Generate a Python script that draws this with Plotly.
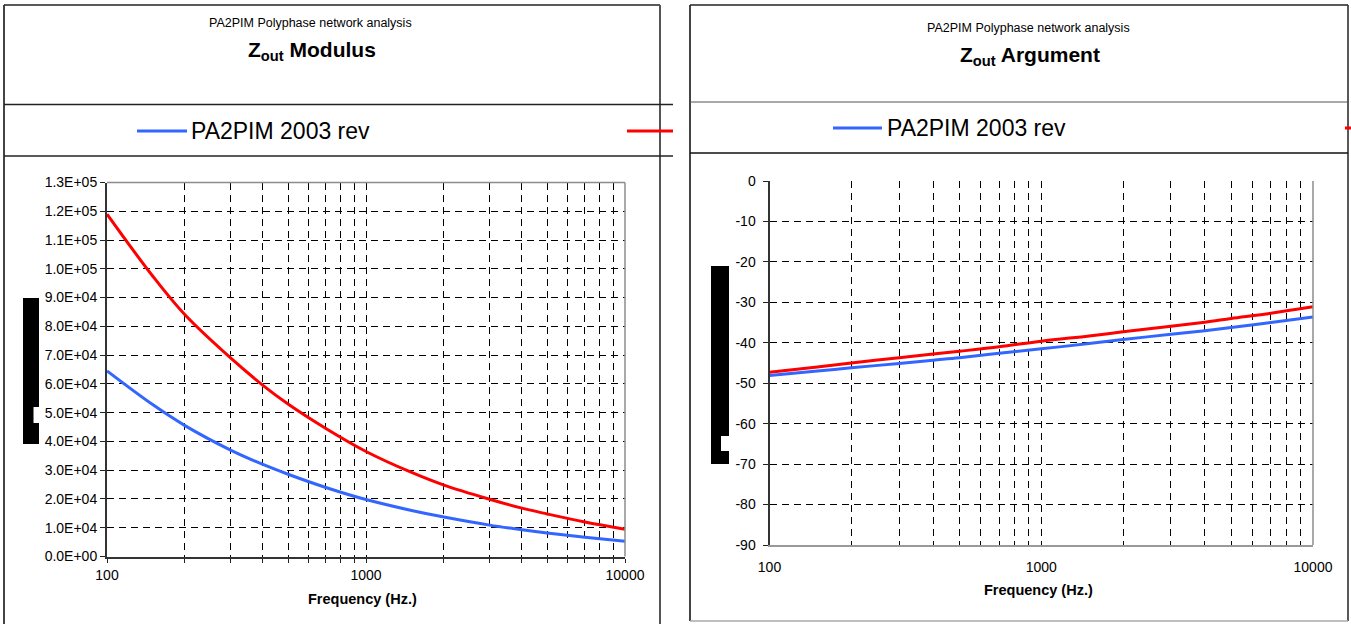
import plotly.graph_objects as go

W, H = 1351, 624

# ---------------- data ----------------
freq_hz = [100, 150, 200, 300, 400, 500, 700, 1000, 1500, 2000, 3000, 4000, 5000, 7000, 10000]

mod_2003_rev = [64500, 52800, 45500, 37000, 32000, 28600, 24000, 19800, 16000, 13700, 10900, 9300, 8200, 6700, 5300]
mod_other = [119000, 97500, 84000, 69000, 59500, 53000, 44500, 36500, 29200, 24800, 19900, 16800, 14800, 12000, 9500]

arg_2003_rev = [-48.1, -47.0, -46.2, -45.1, -44.3, -43.7, -42.6, -41.5, -40.2, -39.2, -37.9, -37.0, -36.2, -35.0, -33.6]
arg_other = [-47.3, -46.0, -45.0, -43.7, -42.8, -42.1, -41.0, -39.6, -38.3, -37.3, -35.9, -34.9, -34.0, -32.7, -31.1]

series_name = "PA2PIM 2003 rev"
other_name = "PA2PIM"

x_tick_vals = [100, 200, 300, 400, 500, 600, 700, 800, 900,
               1000, 2000, 3000, 4000, 5000, 6000, 7000, 8000, 9000, 10000]
x_tick_text = ["100", "", "", "", "", "", "", "", "",
               "1000", "", "", "", "", "", "", "", "", "10000"]

mod_tick_vals = [0, 10000, 20000, 30000, 40000, 50000, 60000, 70000, 80000,
                 90000, 100000, 110000, 120000, 130000]
mod_tick_text = ["0.0E+00", "1.0E+04", "2.0E+04", "3.0E+04", "4.0E+04", "5.0E+04", "6.0E+04",
                 "7.0E+04", "8.0E+04", "9.0E+04", "1.0E+05", "1.1E+05", "1.2E+05", "1.3E+05"]

arg_tick_vals = [0, -10, -20, -30, -40, -50, -60, -70, -80, -90]
arg_tick_text = ["0", "-10", "-20", "-30", "-40", "-50", "-60", "-70", "-80", "-90"]

BLUE = "#3366FF"
RED = "#FF0000"
FONT = "Liberation Sans, Arial, sans-serif"


def px(x):
    return x / W


def py(y):
    return 1 - y / H


fig = go.Figure()

# Modulus traces
fig.add_trace(go.Scatter(x=freq_hz, y=mod_other, name=other_name, mode="lines",
                         line=dict(color=RED, width=3, shape="spline"),
                         xaxis="x", yaxis="y", showlegend=False))
fig.add_trace(go.Scatter(x=freq_hz, y=mod_2003_rev, name=series_name, mode="lines",
                         line=dict(color=BLUE, width=3, shape="spline"),
                         xaxis="x", yaxis="y", showlegend=False))
# Argument traces
fig.add_trace(go.Scatter(x=freq_hz, y=arg_other, name=other_name, mode="lines",
                         line=dict(color=RED, width=3, shape="spline"),
                         xaxis="x2", yaxis="y2", showlegend=False))
fig.add_trace(go.Scatter(x=freq_hz, y=arg_2003_rev, name=series_name, mode="lines",
                         line=dict(color=BLUE, width=3, shape="spline"),
                         xaxis="x2", yaxis="y2", showlegend=False))

grid = dict(showgrid=True, gridcolor="#000000", gridwidth=1, griddash="7px,5px",
            zeroline=False, automargin=False)
tickfont = dict(family=FONT, size=14, color="#000000")

fig.update_layout(
    template="none",
    width=W, height=H, autosize=False,
    margin=dict(l=0, r=0, t=0, b=0, pad=0, autoexpand=False),
    paper_bgcolor="white", plot_bgcolor="white",
    font=dict(family=FONT, color="#000"),
    showlegend=False,
    hovermode=False,
    xaxis=dict(domain=[px(107), px(625)], type="log", range=[2, 4], anchor="y",
               tickvals=x_tick_vals, ticktext=x_tick_text, ticks="outside", ticklen=4,
               tickwidth=1, tickangle=0,
               tickcolor="#222", showline=True, linecolor="#333", linewidth=2,
               tickfont=tickfont, ticklabelstandoff=1, **grid),
    yaxis=dict(domain=[py(556.5), py(182.5)], range=[0, 130000], anchor="x",
               tickvals=mod_tick_vals, ticktext=mod_tick_text, ticks="outside", ticklen=5,
               tickwidth=1,
               tickcolor="#222", showline=True, linecolor="#333", linewidth=2,
               tickfont=tickfont, **grid),
    xaxis2=dict(domain=[px(769.5), px(1313)], type="log", range=[2, 4], anchor="y2",
                tickvals=x_tick_vals, ticktext=x_tick_text, ticks="", tickangle=0,
                showline=True, linecolor="#999", linewidth=1.5,
                tickfont=tickfont, ticklabelstandoff=8, **grid),
    xaxis3=dict(domain=[px(769.5), px(1313)], type="log", range=[2, 4], anchor="y2",
                overlaying="x2", side="top", tickvals=x_tick_vals, ticks="outside", ticklen=4,
                tickwidth=1,
                tickcolor="#222", showticklabels=False, showgrid=False, zeroline=False,
                automargin=False, showline=True, linecolor="#222", linewidth=1.5),
    yaxis2=dict(domain=[py(545), py(181)], range=[-90, 0], anchor="x2",
                tickvals=arg_tick_vals, ticktext=arg_tick_text, ticks="outside", ticklen=5,
                tickwidth=1,
                tickcolor="#222", showline=True, linecolor="#333", linewidth=2,
                tickfont=tickfont, ticklabelstandoff=4, **grid),
)

shapes = []


def hline(x0, x1, y, color="#222", width=1.5):
    shapes.append(dict(type="line", xref="paper", yref="paper", x0=px(x0), x1=px(x1),
                       y0=py(y), y1=py(y), line=dict(color=color, width=width)))


def vline(x, y0, y1, color="#222", width=1.5):
    shapes.append(dict(type="line", xref="paper", yref="paper", x0=px(x), x1=px(x),
                       y0=py(y0), y1=py(y1), line=dict(color=color, width=width)))


def box(x0, y0, x1, y1, color):
    shapes.append(dict(type="rect", xref="paper", yref="paper", x0=px(x0), x1=px(x1),
                       y0=py(y1), y1=py(y0), line=dict(width=0), fillcolor=color))


# left panel frame
vline(4, 5, 624, "#444", 2)
hline(4, 660, 5, "#222", 1.5)
vline(660, 5, 624, "#555", 2)
hline(4, 673, 104.5, "#222", 1.5)
hline(4, 673, 156, "#222", 1.5)
# right panel frame
vline(690, 5, 621, "#444", 2)
hline(690, 1348, 5, "#222", 1.5)
vline(1348, 5, 621, "#222", 1.5)
hline(690, 1348, 621, "#aaa", 1.5)
hline(690, 1348, 102, "#555", 1.2)
hline(690, 1348, 153, "#111", 1.5)

# plot-area borders (top/right of modulus, right of argument)
shapes.append(dict(type="line", xref="x domain", yref="y domain", x0=0, x1=1, y0=1, y1=1,
                   line=dict(color="#8c8c8c", width=1.5), layer="above"))
shapes.append(dict(type="line", xref="x domain", yref="y domain", x0=1, x1=1, y0=0, y1=1,
                   line=dict(color="#8c8c8c", width=1.5), layer="above"))
shapes.append(dict(type="line", xref="x2 domain", yref="y2 domain", x0=1, x1=1, y0=0, y1=1,
                   line=dict(color="#8c8c8c", width=1.5), layer="above"))

# legend samples
hline(137, 187, 131, BLUE, 3)
hline(627, 673, 131, RED, 3)
hline(833, 882, 128, BLUE, 3)
hline(1345, 1351, 128, RED, 3)

# black blocks (rotated y-axis title blocks)
box(23, 298, 39, 444, "#000")
box(33.5, 407, 39, 423, "#fff")
box(711, 266, 729, 464, "#000")
box(721, 436, 729, 451, "#fff")

fig.update_layout(shapes=shapes)

ann = []


def text(x, y, s, size, xanchor="center"):
    ann.append(dict(xref="paper", yref="paper", x=px(x), y=py(y), text=s, showarrow=False,
                    xanchor=xanchor, yanchor="middle",
                    font=dict(family=FONT, size=size, color="#000")))


text(310, 23, "PA2PIM Polyphase network analysis", 12.5)
text(312, 51, "<b>Z<sub>out</sub> Modulus</b>", 21)
text(1028, 28, "PA2PIM Polyphase network analysis", 12.5)
text(1030, 56, "<b>Z<sub>out</sub> Argument</b>", 21)

text(189, 131, series_name, 23, xanchor="left")
text(885, 128, series_name, 23, xanchor="left")

text(362, 599, "<b>Frequency (Hz.)</b>", 14.5)
text(1038, 590, "<b>Frequency (Hz.)</b>", 14.5)

fig.update_layout(annotations=ann)

fig.write_html(
    "out.html",
    config={"displayModeBar": False, "responsive": False},
    post_script="document.body.style.margin='0';document.body.style.overflow='hidden';",
)
